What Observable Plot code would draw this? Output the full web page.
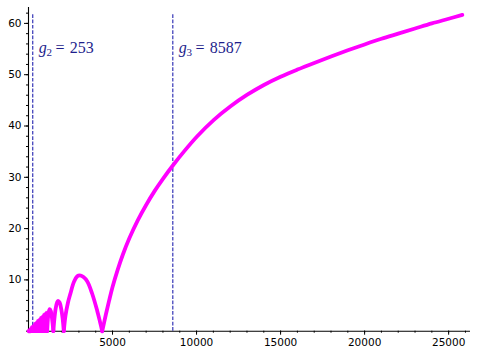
<!DOCTYPE html>
<html>
<head>
<meta charset="utf-8">
<script src="https://cdn.jsdelivr.net/npm/d3@7"></script>
<script src="https://cdn.jsdelivr.net/npm/@observablehq/plot@0.6"></script>
<style>
  html, body { margin: 0; padding: 0; background: white; }
</style>
</head>
<body>
<div id="chart"></div>
<script>
// Curve values
const curveX = [
  0, 30, 60, 90, 120, 150, 180, 210, 240, 270, 300, 330, 360, 390, 420, 450, 480, 510, 540, 570,
  600, 630, 660, 690, 720, 750, 780, 810, 840, 870, 900, 930, 960, 990, 1000, 1050, 1110,
  1150, 1200, 1260, 1330, 1400, 1480,
  1540, 1620, 1700, 1760, 1850, 1950, 2030, 2101,
  2200, 2350, 2500, 2700, 2900, 3054, 3250, 3500, 3790, 4087, 4250, 4387,
  4600, 4800, 5000, 5300, 5600, 6000, 6500, 7000, 7500, 8000, 8589, 9246, 10040, 11030,
  12024, 13018, 14006, 15000, 16000, 17000, 18000, 19000, 20000, 21000, 22000, 23000,
  24000, 25000, 25815
];
const curveY = [
  0, 0.1, 0, 0.3, 0, 0.5, 0, 0.8, 0, 0.9, 0, 1.1, 0, 1.4, 0, 1.5, 0, 1.7, 0, 2.0,
  0, 2.1, 0, 2.3, 0, 2.6, 0, 2.7, 0, 2.9, 0, 3.2, 0, 3.3, 0, 3.6, 0,
  2.2, 3.7, 4.3, 3.9, 2.5, 0,
  2.4, 4.5, 5.6, 5.9, 5.6, 4.3, 2.5, 0,
  3.0, 5.6, 7.4, 9.6, 10.7, 10.9, 10.6, 9.7, 7.3, 4.0, 1.9, 0,
  3.2, 6.0, 8.6, 11.9, 14.8, 18.1, 21.6, 24.6, 27.3, 29.7, 32.3, 35.0, 38.0, 41.2,
  43.85, 46.1, 48.0, 49.6, 51.0, 52.3, 53.55, 54.75, 55.9, 57.0, 58.0, 59.0,
  60.0, 60.9, 61.65
];
// Zeros that separate the wide arches
const archZeros = [1000, 1110, 1480, 2101, 4387];
// Marked values
const gNames = ["2", "3"];
const gValues = [253, 8587];
const gTop = 62;
// Tick values
const xTicks = [5000, 10000, 15000, 20000, 25000];
const xMinor = d3.range(0, 26001, 1000);
const yTicks = [10, 20, 30, 40, 50, 60];
const yMinor = d3.range(0, 63, 2);

const points = curveX.map((x, i) => ({x, y: curveY[i]}));
const dense = points.filter(p => p.x <= archZeros[0]);
// Wide arches: each one its own series (shared zero points duplicated)
const archData = [];
points.forEach(p => {
  if (p.x < archZeros[0]) return;
  const k = d3.bisectRight(archZeros, p.x);
  if (archZeros.includes(p.x) && k > 1) archData.push({...p, seg: k - 1});
  archData.push({...p, seg: k});
});

const labelColor = "#1e1e8c";
const serif = "'Liberation Serif', 'DejaVu Serif', serif";

const chart = Plot.plot({
  width: 478,
  height: 356,
  marginLeft: 28,
  marginRight: 8,
  marginTop: 7,
  marginBottom: 25.3,
  x: {domain: [0, 26300], label: null},
  y: {domain: [0, 63.1], label: null},
  style: {fontFamily: "'DejaVu Sans', sans-serif", fontSize: "10.5px", color: "black", background: "white"},
  marks: [
    Plot.axisX(xMinor, {tickSize: 2, tickFormat: () => "", label: null}),
    Plot.axisX(xTicks, {tickSize: 4, tickPadding: 3, tickFormat: d3.format("d"), label: null}),
    Plot.axisY(yMinor, {tickSize: 2, tickFormat: () => "", label: null}),
    Plot.axisY(yTicks, {tickSize: 4, tickPadding: 3, tickFormat: d3.format("d"), label: null}),
    Plot.ruleX([0], {stroke: "black", strokeWidth: 1.1}),
    Plot.ruleY([0], {stroke: "black", strokeWidth: 1.1}),
    Plot.ruleX(gValues, {x: d => d, y1: 0, y2: gTop, stroke: "#2424b0", strokeWidth: 1.1, strokeDasharray: "3.7,1.6"}),
    Plot.line(dense, {x: "x", y: "y", stroke: "#ff00ff", strokeWidth: 3.8, strokeLinejoin: "round", strokeLinecap: "round", curve: "linear"}),
    Plot.line(archData.filter(p => p.seg >= 1), {x: "x", y: "y", z: "seg", stroke: "#ff00ff", strokeWidth: 3.8, strokeLinejoin: "round", strokeLinecap: "round", curve: "catmull-rom"}),
    Plot.text(gValues, {x: d => d, frameAnchor: "top", lineAnchor: "bottom", dy: 45.5, dx: 6, textAnchor: "start",
      text: () => "g", fontFamily: serif, fontStyle: "italic", fontSize: 16, fill: labelColor}),
    Plot.text(gValues, {x: d => d, frameAnchor: "top", lineAnchor: "bottom", dy: 48.5, dx: 13.7, textAnchor: "start",
      text: (d, i) => gNames[i], fontFamily: serif, fontSize: 11, fill: labelColor}),
    Plot.text(gValues, {x: d => d, frameAnchor: "top", lineAnchor: "bottom", dy: 45.5, dx: 22.7, textAnchor: "start",
      text: () => "=", fontFamily: serif, fontSize: 16, fill: labelColor}),
    Plot.text(gValues, {x: d => d, frameAnchor: "top", lineAnchor: "bottom", dy: 45.5, dx: 37, textAnchor: "start",
      text: d => String(d), fontFamily: serif, fontSize: 16, fill: labelColor})
  ]
});
document.getElementById("chart").appendChild(chart);
</script>
</body>
</html>
